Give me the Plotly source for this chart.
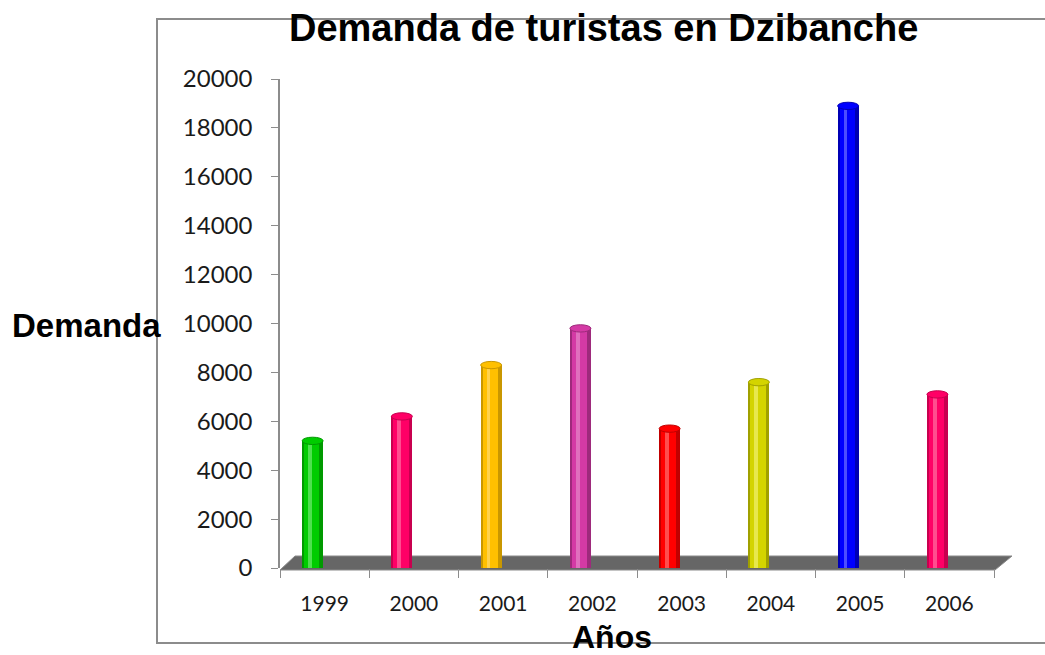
import plotly.graph_objects as go

# Datos
anios = ["1999", "2000", "2001", "2002", "2003", "2004", "2005", "2006"]
demanda = [5200, 6200, 8300, 9800, 5700, 7600, 18900, 7100]
colores = ["#00CC00", "#FF0066", "#FFC000", "#D43AA5", "#FF0000", "#D4D400", "#0000FF", "#FF0066"]
bordes = ["#009A00", "#C8004F", "#C99700", "#9E2A7C", "#C00000", "#A0A000", "#0000B4", "#C8004F"]
brillos = ["#4EE04E", "#FF4D8F", "#FFD24D", "#E070BE", "#FF4D4D", "#E8E84D", "#4D4DFF", "#FF4D8F"]
y_ticks = list(range(0, 20001, 2000))

# geometría en píxeles de la imagen original
W, H = 1045, 655
L, R, T, B = 280, 994, 79, 568
cat_w = (R - L) / len(anios)


def px_x(px):
    return (px - L) / (R - L)


def px_y(py):
    return (B - py) / (B - T)


desp = -12 / cat_w          # los cilindros están corridos a la izquierda (efecto 3D)
ancho = 21 / cat_w

fig = go.Figure()
# cilindro: borde oscuro, cuerpo y brillo
fig.add_trace(go.Bar(x=anios, y=demanda, width=ancho, offset=desp - ancho / 2,
                     marker=dict(color=bordes, line=dict(width=0)), hoverinfo="skip"))
fig.add_trace(go.Bar(x=anios, y=demanda, width=ancho * 0.72, offset=desp - ancho * 0.40,
                     marker=dict(color=colores, line=dict(width=0)), hoverinfo="skip"))
fig.add_trace(go.Bar(x=anios, y=demanda, width=ancho * 0.18, offset=desp - ancho * 0.22,
                     marker=dict(color=brillos, line=dict(width=0)),
                     hovertemplate="%{x}: %{y}<extra></extra>"))

shapes = []
# marco del gráfico (abierto a la derecha, sale de la imagen)
shapes.append(dict(type="path", xref="paper", yref="paper", layer="below",
                   path=f"M {px_x(1060)} {px_y(19)} L {px_x(157)} {px_y(19)} "
                        f"L {px_x(157)} {px_y(643)} L {px_x(1060)} {px_y(643)}",
                   line=dict(color="#8C8C8C", width=2)))
# piso gris en perspectiva
shapes.append(dict(type="path", xref="paper", yref="paper", layer="below",
                   path=f"M {px_x(280)} {px_y(570)} L {px_x(995)} {px_y(570)} "
                        f"L {px_x(1012)} {px_y(556)} L {px_x(295)} {px_y(556)} Z",
                   fillcolor="#666666", line=dict(color="#8A8A8A", width=1)))
# tapas elípticas de los cilindros
media = 150
for i, (v, c, b) in enumerate(zip(demanda, colores, bordes)):
    cx = i + desp
    shapes.append(dict(type="circle", xref="x", yref="y",
                       x0=cx - ancho / 2, x1=cx + ancho / 2, y0=v - media, y1=v + media,
                       fillcolor=c, line=dict(color=b, width=1), layer="above"))

fig.update_layout(
    width=W, height=H,
    margin=dict(l=L, r=W - R, t=T, b=H - B),
    paper_bgcolor="white", plot_bgcolor="white",
    barmode="overlay", bargap=0, showlegend=False,
    shapes=shapes,
    xaxis=dict(type="category", range=[-0.5, len(anios) - 0.5],
               tickson="boundaries", ticks="outside", ticklen=9, tickcolor="#8C8C8C",
               showline=False, showgrid=False, zeroline=False,
               tickfont=dict(family="Lato, sans-serif", size=21, color="#1a1a1a"),
               ticklabelstandoff=21),
    yaxis=dict(range=[0, 20000], tickvals=y_ticks, tickformat="d", ticks="outside", ticklen=7,
               tickcolor="#8C8C8C", showline=True, linecolor="#8C8C8C", linewidth=1.5,
               showgrid=False, zeroline=False,
               tickfont=dict(family="Lato, sans-serif", size=24, color="#1a1a1a"),
               ticklabelstandoff=14),
    annotations=[
        dict(text="<b>Demanda de turistas en Dzibanche</b>", xref="paper", yref="paper",
             x=px_x(603), y=px_y(28), xanchor="center", yanchor="middle", showarrow=False,
             font=dict(family="Liberation Sans, Arial, sans-serif", size=38, color="black")),
        dict(text="<b>Demanda</b>", xref="paper", yref="paper",
             x=px_x(10), y=px_y(325), xanchor="left", yanchor="middle", showarrow=False,
             font=dict(family="Liberation Sans, Arial, sans-serif", size=33, color="black")),
        dict(text="<b>Años</b>", xref="paper", yref="paper",
             x=px_x(612), y=px_y(637), xanchor="center", yanchor="middle", showarrow=False,
             font=dict(family="Liberation Sans, Arial, sans-serif", size=32, color="black")),
    ],
)

# sin margen del body para que la figura quede alineada con la ventana
fig.write_html("out.html", config={"displayModeBar": False},
               post_script="document.body.style.margin='0';")
